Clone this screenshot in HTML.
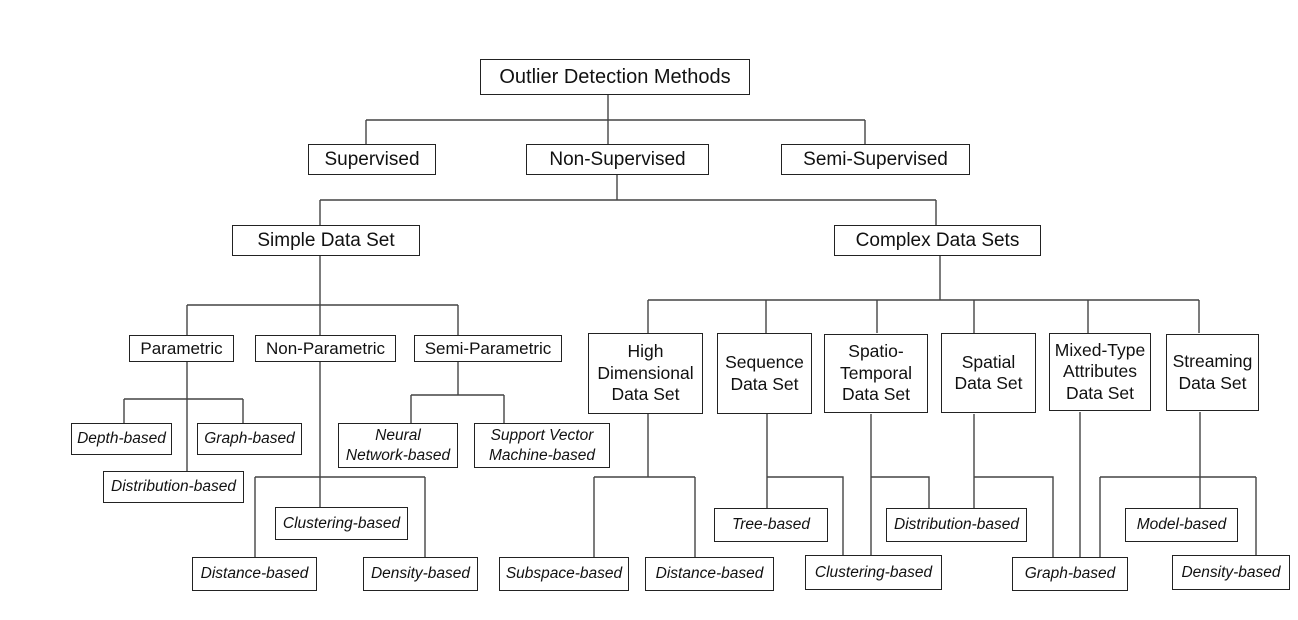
<!DOCTYPE html>
<html><head><meta charset="utf-8"><style>
body{margin:0;width:1298px;height:620px;background:#fff;position:relative;overflow:hidden;font-family:"Liberation Sans",Arial,sans-serif;color:#111}
.b{position:absolute;box-sizing:border-box;border:1.5px solid #222;background:#fff;display:flex;align-items:center;justify-content:center;text-align:center;white-space:nowrap}
.l1{font-size:20px}.l2{font-size:19px}.l3{font-size:17px}.l4{font-size:17.5px;line-height:21.5px}
.lf{font-size:15.5px;font-style:italic;line-height:20px}
svg{position:absolute;left:0;top:0}
</style></head><body>
<svg width="1298" height="620" stroke="#444" stroke-width="1.4" fill="none">
<path d="M608 94V120M366 120H865M366 120V144M608 120V144M865 120V144"/>
<path d="M617 175V200M320 200H936M320 200V225M936 200V225"/>
<path d="M320 255V305M187 305H458M187 305V335M320 305V335M458 305V335"/>
<path d="M187 361V471M124 399H243M124 399V423M243 399V423"/>
<path d="M320 361V507M255 477H425M255 477V557M425 477V557"/>
<path d="M458 361V395M411 395H504M411 395V423M504 395V423"/>
<path d="M940 255V300M648 300H1199M648 300V333M766 300V333M877 300V333M974 300V333M1088 300V333M1199 300V333"/>
<path d="M648 414V477M594 477H695M594 477V557M695 477V557"/>
<path d="M767 414V508M767 477H843V555"/>
<path d="M871 414V555M871 477H929V508"/>
<path d="M974 414V508M974 477H1053V557"/>
<path d="M1080 412V557"/>
<path d="M1200 412V508M1100 477H1256M1100 477V557M1256 477V555"/>
</svg>
<div class="b l1" style="left:480px;top:59px;width:270px;height:36px">Outlier Detection Methods</div>
<div class="b l2" style="left:308px;top:144px;width:128px;height:31px">Supervised</div>
<div class="b l2" style="left:526px;top:144px;width:183px;height:31px">Non-Supervised</div>
<div class="b l2" style="left:781px;top:144px;width:189px;height:31px">Semi-Supervised</div>
<div class="b l2" style="left:232px;top:225px;width:188px;height:31px">Simple Data Set</div>
<div class="b l2" style="left:834px;top:225px;width:207px;height:31px">Complex Data Sets</div>
<div class="b l3" style="left:129px;top:335px;width:105px;height:27px">Parametric</div>
<div class="b l3" style="left:255px;top:335px;width:141px;height:27px">Non-Parametric</div>
<div class="b l3" style="left:414px;top:335px;width:148px;height:27px">Semi-Parametric</div>
<div class="b lf" style="left:71px;top:423px;width:101px;height:32px">Depth-based</div>
<div class="b lf" style="left:197px;top:423px;width:105px;height:32px">Graph-based</div>
<div class="b lf" style="left:103px;top:471px;width:141px;height:32px">Distribution-based</div>
<div class="b lf" style="left:275px;top:507px;width:133px;height:33px">Clustering-based</div>
<div class="b lf" style="left:192px;top:557px;width:125px;height:34px">Distance-based</div>
<div class="b lf" style="left:363px;top:557px;width:115px;height:34px">Density-based</div>
<div class="b lf" style="left:338px;top:423px;width:120px;height:45px">Neural<br>Network-based</div>
<div class="b lf" style="left:474px;top:423px;width:136px;height:45px">Support Vector<br>Machine-based</div>
<div class="b l4" style="left:588px;top:333px;width:115px;height:81px">High<br>Dimensional<br>Data Set</div>
<div class="b l4" style="left:717px;top:333px;width:95px;height:81px">Sequence<br>Data Set</div>
<div class="b l4" style="left:824px;top:334px;width:104px;height:79px">Spatio-<br>Temporal<br>Data Set</div>
<div class="b l4" style="left:941px;top:333px;width:95px;height:80px">Spatial<br>Data Set</div>
<div class="b l4" style="left:1049px;top:333px;width:102px;height:78px">Mixed-Type<br>Attributes<br>Data Set</div>
<div class="b l4" style="left:1166px;top:334px;width:93px;height:77px">Streaming<br>Data Set</div>
<div class="b lf" style="left:499px;top:557px;width:130px;height:34px">Subspace-based</div>
<div class="b lf" style="left:645px;top:557px;width:129px;height:34px">Distance-based</div>
<div class="b lf" style="left:714px;top:508px;width:114px;height:34px">Tree-based</div>
<div class="b lf" style="left:805px;top:555px;width:137px;height:35px">Clustering-based</div>
<div class="b lf" style="left:886px;top:508px;width:141px;height:34px">Distribution-based</div>
<div class="b lf" style="left:1012px;top:557px;width:116px;height:34px">Graph-based</div>
<div class="b lf" style="left:1125px;top:508px;width:113px;height:34px">Model-based</div>
<div class="b lf" style="left:1172px;top:555px;width:118px;height:35px">Density-based</div>
</body></html>
